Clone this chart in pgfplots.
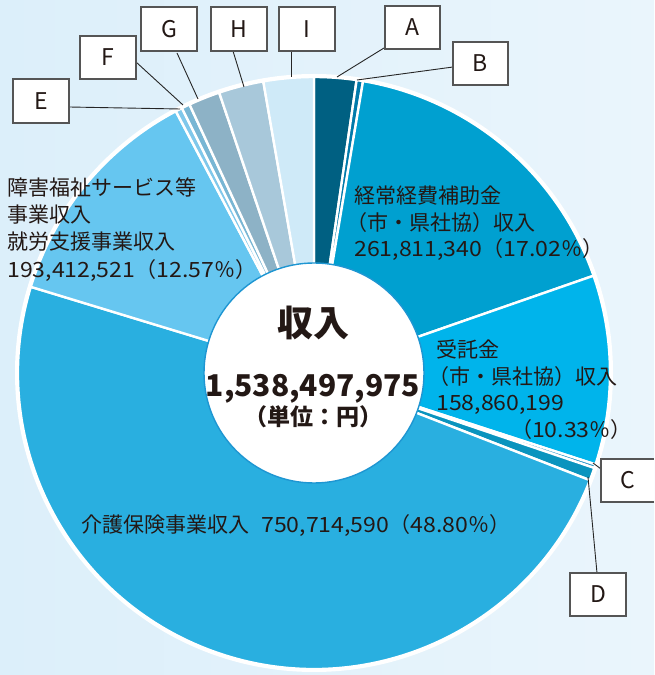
\documentclass[border=0pt]{standalone}
\usepackage{pgfplots}
\pgfplotsset{compat=1.18}
\usepackage{pgfplotstable}
\usepackage{fontspec}
\setmainfont{Noto Sans CJK JP}
\newfontfamily\numf[FakeStretch=1.1]{Noto Sans CJK JP}
\newfontfamily\numc{Noto Sans CJK JP}

\definecolor{bgL}{RGB}{220,239,250}
\definecolor{bgR}{RGB}{234,245,252}
\definecolor{cA}{RGB}{0,96,130}
\definecolor{cB}{RGB}{0,122,170}
\definecolor{cK}{RGB}{0,160,208}
\definecolor{cJ}{RGB}{0,180,235}
\definecolor{cC}{RGB}{40,150,200}
\definecolor{cD}{RGB}{10,148,190}
\definecolor{cL}{RGB}{41,175,224}
\definecolor{cS}{RGB}{102,198,240}
\definecolor{cE}{RGB}{128,200,235}
\definecolor{cF}{RGB}{120,182,212}
\definecolor{cG}{RGB}{141,178,198}
\definecolor{cH}{RGB}{168,200,218}
\definecolor{cI}{RGB}{207,234,248}
\definecolor{ring}{RGB}{30,150,210}
\definecolor{txt}{RGB}{35,24,21}
\definecolor{boxline}{RGB}{85,85,85}

% share of each slice (percent), clockwise from 12 o'clock
\pgfplotstableread{
label value col
A 2.30 cA
B 0.35 cB
K 17.02 cK
J 10.33 cJ
C 0.20 cC
D 0.70 cD
L 48.80 cL
S 12.57 cS
E 0.37 cE
F 0.45 cF
G 1.72 cG
H 2.45 cH
I 2.74 cI
}\piedata

\begin{document}
\begin{tikzpicture}
\begin{axis}[x=1pt,y=1pt,xmin=0,xmax=654,ymin=0,ymax=675,hide axis,clip=true]
\pgfplotsextra{
  \fill[left color=bgL,right color=bgR] (0,0) rectangle (654,675);
  \pgfplotstablegetrowsof{\piedata}
  \pgfmathtruncatemacro{\N}{\pgfplotsretval-1}
  \gdef\cum{0}
  \foreach \i in {0,...,\N}{
    \pgfplotstablegetelem{\i}{value}\of\piedata
    \let\wval\pgfplotsretval
    \pgfplotstablegetelem{\i}{col}\of\piedata
    \let\wcol\pgfplotsretval
    \pgfmathsetmacro{\sa}{90-3.6*\cum}
    \pgfmathsetmacro{\ea}{90-3.6*(\cum+\wval)}
    \fill[fill=\wcol,draw=white,line width=2.4pt,line join=round] (314,302) -- ++(\sa:296pt) arc[start angle=\sa,end angle=\ea,radius=296pt] -- cycle;
    \pgfmathsetmacro{\nc}{\cum+\wval}
    \xdef\cum{\nc}
  }
  \draw[white,line width=3pt] (314,302) circle[radius=297.5pt];
  \fill[white,draw=ring,line width=1.4pt] (314,302) circle[radius=110pt];
  % leader lines
  \begin{scope}[draw=black!85,line width=0.9pt]
    \draw (384,627) -- (337,598);
    \draw (453,608) -- (357,595);
    \draw (69,568) -- (180,566);
    \draw (136,613) -- (183,570);
    \draw (177,622) -- (198,576);
    \draw (233,624) -- (244,588);
    \draw (291,623) -- (291,598);
    \draw (601,206) -- (593,212);
    \draw (597,102) -- (588,198);
  \end{scope}
  % boxes
  \begin{scope}[draw=boxline,fill=white,line width=1.1pt]
    \filldraw (385,626) rectangle (440,669);
    \filldraw (453,590) rectangle (508,633);
    \filldraw (13,552) rectangle (69,596);
    \filldraw (80,596) rectangle (136,639);
    \filldraw (141,624) rectangle (197,668);
    \filldraw (211,624) rectangle (267,668);
    \filldraw (279,624) rectangle (335,668);
    \filldraw (570,59) rectangle (626,102);
    \fill (601,173) rectangle (654,216);
    \draw (654,173) -- (601,173) -- (601,216) -- (654,216);
  \end{scope}
  \begin{scope}[every node/.style={inner sep=0pt,text=txt,font=\fontsize{23}{26}\selectfont}]
    \node at (412.5,647.5) {A};
    \node at (480.5,611.5) {B};
    \node at (41,574) {E};
    \node at (108,617.5) {F};
    \node at (169,646) {G};
    \node at (239,646) {H};
    \node at (307,646) {I};
    \node at (628,194.5) {C};
    \node at (598,80.5) {D};
  \end{scope}
  % slice labels
  \begin{scope}[every node/.style={inner sep=0pt,text=txt,anchor=base west,font=\fontsize{21}{26}\selectfont}]
    \node at (354,471) {経常経費補助金};
    \node at (346,444) {（市・県社協）収入};
    \node at (354,418) {{\numf 261,811,340}（{\numf 17.02}％）};
    \node at (436,317) {受託金};
    \node at (428,290) {（市・県社協）収入};
    \node at (436,264) {\numf 158,860,199};
    \node[anchor=base east] at (632,237) {（{\numf 10.33}％）};
    \node at (7,479) {障害福祉サービス等};
    \node at (7,452) {事業収入};
    \node at (7,425) {就労支援事業収入};
    \node at (7,397) {{\numf 193,412,521}（{\numf 12.57}％）};
    \node at (81,142) {介護保険事業収入\hspace{12pt}{\numf 750,714,590}（{\numf 48.80}％）};
  \end{scope}
  % centre
  \node[inner sep=0pt,anchor=base,text=txt,font=\fontsize{36}{40}\selectfont\bfseries] at (313,338) {収入};
  \node[inner sep=0pt,anchor=base,text=txt,font=\fontsize{30}{34}\selectfont\numc\bfseries] at (313,278) {1,538,497,975};
  \node[inner sep=0pt,anchor=base,text=txt,font=\fontsize{23}{26}\selectfont\bfseries] at (313,249) {（単位：円）};
}
\end{axis}
\end{tikzpicture}
\end{document}
